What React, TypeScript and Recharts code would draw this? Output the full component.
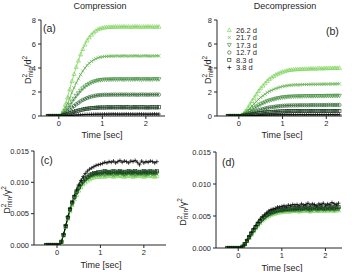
import { LineChart, Line, XAxis, YAxis, Legend } from 'recharts';

// Time axis shared by every series (sec)
const time = [
  -0.25, -0.2, -0.15, -0.1, -0.05, 0,
  0.05, 0.1, 0.15, 0.2, 0.25, 0.3, 0.35, 0.4, 0.45, 0.5, 0.55, 0.6, 0.65, 0.7, 0.75, 0.8, 0.85, 0.9, 0.95, 1,
  1.05, 1.1, 1.15, 1.2, 1.25, 1.3, 1.35, 1.4, 1.45, 1.5, 1.55, 1.6, 1.65,
  1.7, 1.75, 1.8, 1.85, 1.9, 1.95, 2, 2.05, 2.1, 2.15, 2.2, 2.25, 2.3,
];

const strainLabels = ['26.2 d', '21.7 d', '17.3 d', '12.7 d', '8.3 d', '3.8 d'];
const strainColors = ['#7ad257', '#5bae48', '#3f8c3b', '#2b6430', '#173a1d', '#000000'];
const strainMarkers = ['triUp', 'cross', 'triDown', 'circle', 'square', 'plus'];

const xTicks = [0, 1, 2];
const yTicksTop = [0, 2, 4, 6, 8];
const yTicksBottom = [0, 0.005, 0.01, 0.015];

// (a) compression, D2min/d2
const compA262 = [
  0, 0, 0, 0, 0, 0,
  0.02, 0.45, 0.97, 1.56, 2.24, 2.91, 3.5, 4.1, 4.62, 5.14, 5.59, 5.96, 6.3, 6.56, 6.78, 6.97, 7.11, 7.23, 7.3, 7.35,
  7.39, 7.41, 7.43, 7.43, 7.44, 7.45, 7.44, 7.46, 7.45, 7.47, 7.45, 7.46, 7.44,
  7.45, 7.47, 7.46, 7.45, 7.44, 7.46, 7.45, 7.47, 7.46, 7.45, 7.44, 7.46, 7.45,
];
const compA217 = [
  0, 0, 0, 0, 0, 0,
  0.01, 0.3, 0.65, 1.05, 1.5, 1.95, 2.35, 2.75, 3.1, 3.45, 3.75, 4.0, 4.22, 4.4, 4.55, 4.67, 4.77, 4.85, 4.9, 4.93,
  4.96, 4.97, 4.98, 4.99, 4.99, 5.0, 5.01, 4.99, 5.0, 5.02, 5.0, 4.99, 5.01,
  5.0, 5.02, 5.01, 4.99, 5.0, 5.01, 5.02, 5.0, 4.99, 5.01, 5.0, 5.02, 5.01,
];
const compA173 = [
  0, 0, 0, 0, 0, 0,
  0.01, 0.18, 0.4, 0.64, 0.92, 1.19, 1.43, 1.68, 1.89, 2.1, 2.29, 2.44, 2.58, 2.68, 2.78, 2.85, 2.91, 2.96, 2.99, 3.01,
  3.03, 3.03, 3.04, 3.04, 3.05, 3.05, 3.04, 3.06, 3.05, 3.03, 3.06, 3.05, 3.04,
  3.06, 3.05, 3.07, 3.05, 3.04, 3.06, 3.05, 3.06, 3.04, 3.05, 3.07, 3.05, 3.06,
];
const compA127 = [
  0, 0, 0, 0, 0, 0,
  0.01, 0.11, 0.23, 0.37, 0.53, 0.69, 0.84, 0.98, 1.1, 1.23, 1.34, 1.42, 1.5, 1.57, 1.62, 1.66, 1.7, 1.73, 1.74, 1.76,
  1.77, 1.77, 1.77, 1.78, 1.78, 1.78, 1.77, 1.79, 1.78, 1.78, 1.79, 1.77, 1.78,
  1.79, 1.78, 1.77, 1.78, 1.79, 1.78, 1.78, 1.77, 1.79, 1.78, 1.78, 1.79, 1.78,
];
const compA83 = [
  0, 0, 0, 0, 0, 0,
  0, 0.04, 0.09, 0.15, 0.22, 0.28, 0.34, 0.4, 0.45, 0.5, 0.54, 0.58, 0.61, 0.63, 0.66, 0.67, 0.69, 0.7, 0.71, 0.71,
  0.71, 0.72, 0.72, 0.72, 0.72, 0.72, 0.72, 0.73, 0.72, 0.72, 0.73, 0.72, 0.71,
  0.72, 0.73, 0.72, 0.72, 0.73, 0.72, 0.72, 0.71, 0.72, 0.73, 0.72, 0.72, 0.73,
];
const compA38 = [
  0, 0, 0, 0, 0, 0,
  0, 0.01, 0.02, 0.03, 0.04, 0.05, 0.07, 0.08, 0.09, 0.1, 0.11, 0.12, 0.13, 0.13, 0.14, 0.14, 0.15, 0.15, 0.15, 0.15,
  0.16, 0.15, 0.16, 0.16, 0.17, 0.16, 0.16, 0.15, 0.16, 0.16, 0.17, 0.16, 0.16,
  0.16, 0.15, 0.16, 0.17, 0.16, 0.16, 0.16, 0.15, 0.16, 0.16, 0.17, 0.16, 0.16,
];

// (b) decompression, D2min/d2
const decompB262 = [
  0, 0, 0, 0, 0, 0,
  0.01, 0.16, 0.4, 0.64, 0.96, 1.25, 1.53, 1.81, 2.09, 2.33, 2.53, 2.73, 2.93, 3.1, 3.22, 3.34, 3.46, 3.54, 3.62, 3.7,
  3.74, 3.8, 3.84, 3.86, 3.88, 3.9, 3.91, 3.92, 3.93, 3.94, 3.94, 3.95, 3.96,
  3.96, 3.95, 3.97, 3.99, 3.97, 3.98, 4.0, 3.99, 4.01, 4.0, 4.02, 4.01, 4.02,
];
const decompB217 = [
  0, 0, 0, 0, 0, 0,
  0, 0.11, 0.27, 0.43, 0.64, 0.83, 1.02, 1.21, 1.39, 1.55, 1.69, 1.82, 1.96, 2.06, 2.14, 2.22, 2.3, 2.36, 2.41, 2.47,
  2.49, 2.53, 2.56, 2.57, 2.59, 2.6, 2.6, 2.61, 2.62, 2.63, 2.63, 2.63, 2.64,
  2.64, 2.64, 2.65, 2.65, 2.65, 2.66, 2.66, 2.66, 2.67, 2.67, 2.67, 2.68, 2.68,
];
const decompB173 = [
  0, 0, 0, 0, 0, 0,
  0, 0.07, 0.17, 0.27, 0.4, 0.52, 0.64, 0.76, 0.87, 0.97, 1.06, 1.14, 1.23, 1.29, 1.34, 1.39, 1.44, 1.48, 1.51, 1.55,
  1.56, 1.59, 1.6, 1.61, 1.62, 1.63, 1.63, 1.64, 1.64, 1.65, 1.65, 1.65, 1.65,
  1.65, 1.66, 1.66, 1.66, 1.66, 1.66, 1.67, 1.67, 1.67, 1.67, 1.68, 1.68, 1.68,
];
const decompB127 = [
  0, 0, 0, 0, 0, 0,
  0, 0.04, 0.09, 0.15, 0.22, 0.29, 0.35, 0.41, 0.48, 0.53, 0.58, 0.63, 0.67, 0.71, 0.74, 0.76, 0.79, 0.81, 0.83, 0.85,
  0.86, 0.87, 0.88, 0.88, 0.89, 0.89, 0.89, 0.9, 0.9, 0.9, 0.9, 0.9, 0.91,
  0.91, 0.91, 0.91, 0.91, 0.91, 0.91, 0.91, 0.92, 0.92, 0.92, 0.92, 0.92, 0.92,
];
const decompB83 = [
  0, 0, 0, 0, 0, 0,
  0, 0.02, 0.04, 0.07, 0.1, 0.13, 0.16, 0.19, 0.22, 0.24, 0.26, 0.29, 0.31, 0.32, 0.34, 0.35, 0.36, 0.37, 0.38, 0.39,
  0.39, 0.4, 0.4, 0.4, 0.41, 0.41, 0.41, 0.42, 0.41, 0.42, 0.42, 0.41, 0.42,
  0.42, 0.41, 0.42, 0.42, 0.42, 0.41, 0.42, 0.42, 0.42, 0.41, 0.42, 0.42, 0.42,
];
const decompB38 = [
  0, 0, 0, 0, 0, 0,
  0, 0, 0.01, 0.02, 0.03, 0.03, 0.04, 0.05, 0.06, 0.06, 0.07, 0.07, 0.08, 0.08, 0.09, 0.09, 0.09, 0.1, 0.1, 0.1,
  0.1, 0.11, 0.1, 0.11, 0.11, 0.1, 0.11, 0.11, 0.11, 0.1, 0.11, 0.11, 0.11,
  0.1, 0.11, 0.11, 0.11, 0.11, 0.1, 0.11, 0.11, 0.11, 0.11, 0.1, 0.11, 0.11,
];

// (c) compression, D2min/gamma2
const normC262 = [
  0, 0, 0, 0, 0, 0,
  0, 0.0004, 0.0015, 0.0029, 0.0042, 0.0054, 0.0064, 0.0073, 0.008, 0.0087, 0.0092, 0.0097, 0.01, 0.0103, 0.0105, 0.0107, 0.0108, 0.0109, 0.0109, 0.0109,
  0.011, 0.0109, 0.011, 0.0111, 0.011, 0.0109, 0.011, 0.0111, 0.011, 0.011, 0.0109, 0.011, 0.0111,
  0.011, 0.0109, 0.011, 0.011, 0.0111, 0.011, 0.0109, 0.011, 0.0111, 0.011, 0.011, 0.0109, 0.011,
];
const normC217 = [
  0, 0, 0, 0, 0, 0,
  0, 0.0005, 0.0016, 0.0029, 0.0043, 0.0055, 0.0065, 0.0074, 0.0082, 0.0088, 0.0094, 0.0099, 0.0102, 0.0105, 0.0107, 0.0109, 0.011, 0.0111, 0.0111, 0.0111,
  0.0112, 0.0111, 0.0112, 0.0113, 0.0112, 0.0111, 0.0112, 0.0112, 0.0113, 0.0112, 0.0111, 0.0112, 0.0113,
  0.0112, 0.0112, 0.0111, 0.0112, 0.0113, 0.0112, 0.0112, 0.0111, 0.0112, 0.0113, 0.0112, 0.0112, 0.0113,
];
const normC173 = [
  0, 0, 0, 0, 0, 0,
  0, 0.0005, 0.0016, 0.003, 0.0043, 0.0056, 0.0066, 0.0075, 0.0083, 0.009, 0.0096, 0.01, 0.0104, 0.0107, 0.0109, 0.0111, 0.0112, 0.0113, 0.0113, 0.0113,
  0.0114, 0.0113, 0.0114, 0.0115, 0.0114, 0.0113, 0.0114, 0.0114, 0.0115, 0.0114, 0.0113, 0.0114, 0.0115,
  0.0114, 0.0114, 0.0113, 0.0114, 0.0115, 0.0114, 0.0114, 0.0113, 0.0114, 0.0115, 0.0114, 0.0114, 0.0115,
];
const normC127 = [
  0, 0, 0, 0, 0, 0,
  0, 0.0005, 0.0016, 0.003, 0.0044, 0.0056, 0.0067, 0.0076, 0.0084, 0.0091, 0.0097, 0.0101, 0.0105, 0.0108, 0.011, 0.0112, 0.0113, 0.0114, 0.0114, 0.0114,
  0.0115, 0.0116, 0.0115, 0.0114, 0.0115, 0.0116, 0.0115, 0.0115, 0.0116, 0.0115, 0.0114, 0.0115, 0.0116,
  0.0115, 0.0115, 0.0116, 0.0115, 0.0114, 0.0115, 0.0116, 0.0115, 0.0115, 0.0116, 0.0115, 0.0115, 0.0116,
];
const normC83 = [
  0, 0, 0, 0, 0, 0,
  0, 0.0005, 0.0016, 0.003, 0.0044, 0.0057, 0.0068, 0.0077, 0.0085, 0.0092, 0.0098, 0.0103, 0.0106, 0.0109, 0.0112, 0.0113, 0.0115, 0.0115, 0.0116, 0.0116,
  0.0117, 0.0118, 0.0117, 0.0116, 0.0117, 0.0118, 0.0117, 0.0117, 0.0118, 0.0117, 0.0116, 0.0117, 0.0118,
  0.0117, 0.0117, 0.0118, 0.0117, 0.0116, 0.0117, 0.0118, 0.0117, 0.0117, 0.0118, 0.0117, 0.0117, 0.0118,
];
const normC38 = [
  0, 0, 0, 0, 0, 0,
  0, 0.0005, 0.0017, 0.0031, 0.0045, 0.0058, 0.0069, 0.0079, 0.0088, 0.0096, 0.0103, 0.0109, 0.0114, 0.0118, 0.0121, 0.0123, 0.0125, 0.0127, 0.0128, 0.0129,
  0.013, 0.0132, 0.0131, 0.0133, 0.0132, 0.0134, 0.0131, 0.0133, 0.0135, 0.0132, 0.0134, 0.0133, 0.0131,
  0.0134, 0.0133, 0.0135, 0.0132, 0.0128, 0.0134, 0.0131, 0.0133, 0.0132, 0.0134, 0.0133, 0.0131, 0.0133,
];

// (d) decompression, D2min/gamma2
const normD262 = [
  0, 0, 0, 0, 0, 0,
  0, 0.0002, 0.0006, 0.0011, 0.0016, 0.0021, 0.0026, 0.0031, 0.0035, 0.0039, 0.0043, 0.0046, 0.0048, 0.005, 0.0052, 0.0053, 0.0054, 0.0055, 0.0056, 0.0056,
  0.0057, 0.0057, 0.0057, 0.0057, 0.0058, 0.0058, 0.0058, 0.0057, 0.0058, 0.0058, 0.0059, 0.0058, 0.0057,
  0.0058, 0.0059, 0.0058, 0.0058, 0.0059, 0.0058, 0.0059, 0.0058, 0.0059, 0.0059, 0.0058, 0.0059, 0.0059,
];
const normD217 = [
  0, 0, 0, 0, 0, 0,
  0, 0.0002, 0.0006, 0.0011, 0.0016, 0.0022, 0.0027, 0.0032, 0.0036, 0.0041, 0.0044, 0.0047, 0.005, 0.0052, 0.0053, 0.0055, 0.0056, 0.0057, 0.0058, 0.0058,
  0.0058, 0.0059, 0.0059, 0.0059, 0.0059, 0.0059, 0.0059, 0.006, 0.0059, 0.006, 0.006, 0.0059, 0.006,
  0.0061, 0.006, 0.0059, 0.006, 0.006, 0.0061, 0.006, 0.006, 0.0061, 0.006, 0.006, 0.0061, 0.006,
];
const normD173 = [
  0, 0, 0, 0, 0, 0,
  0, 0.0002, 0.0006, 0.0011, 0.0016, 0.0022, 0.0027, 0.0032, 0.0037, 0.0041, 0.0044, 0.0047, 0.005, 0.0052, 0.0054, 0.0055, 0.0056, 0.0057, 0.0058, 0.0058,
  0.0059, 0.0059, 0.0059, 0.0059, 0.006, 0.006, 0.006, 0.0059, 0.006, 0.0061, 0.006, 0.006, 0.0059,
  0.006, 0.0061, 0.006, 0.006, 0.0061, 0.006, 0.006, 0.0061, 0.006, 0.0061, 0.006, 0.0061, 0.0061,
];
const normD127 = [
  0, 0, 0, 0, 0, 0,
  0, 0.0002, 0.0006, 0.0011, 0.0017, 0.0022, 0.0027, 0.0032, 0.0037, 0.0041, 0.0045, 0.0048, 0.0051, 0.0053, 0.0054, 0.0056, 0.0057, 0.0058, 0.0059, 0.0059,
  0.0059, 0.006, 0.006, 0.006, 0.006, 0.006, 0.0061, 0.006, 0.0061, 0.0061, 0.0062, 0.0061, 0.006,
  0.0061, 0.0062, 0.0061, 0.0061, 0.0062, 0.0061, 0.0061, 0.0062, 0.0061, 0.0062, 0.0061, 0.0062, 0.0062,
];
const normD83 = [
  0, 0, 0, 0, 0, 0,
  0, 0.0002, 0.0006, 0.0011, 0.0017, 0.0023, 0.0028, 0.0033, 0.0038, 0.0042, 0.0046, 0.0049, 0.0052, 0.0054, 0.0056, 0.0057, 0.0058, 0.0059, 0.006, 0.006,
  0.0061, 0.0061, 0.0061, 0.0062, 0.0062, 0.0062, 0.0062, 0.0063, 0.0062, 0.0063, 0.0064, 0.0063, 0.0062,
  0.0063, 0.0064, 0.0063, 0.0063, 0.0064, 0.0063, 0.0062, 0.0064, 0.0063, 0.0064, 0.0063, 0.0064, 0.0064,
];
const normD38 = [
  0, 0, 0, 0, 0, 0,
  0, 0.0002, 0.0006, 0.0012, 0.0018, 0.0024, 0.003, 0.0035, 0.004, 0.0045, 0.0049, 0.0052, 0.0055, 0.0058, 0.006, 0.0061, 0.0062, 0.0064, 0.0064, 0.0065,
  0.0066, 0.0065, 0.0067, 0.0066, 0.0068, 0.0067, 0.0068, 0.0066, 0.0069, 0.0067, 0.0068, 0.007, 0.0067,
  0.0069, 0.0068, 0.0066, 0.0069, 0.0068, 0.007, 0.0067, 0.0069, 0.0068, 0.0071, 0.0069, 0.0068, 0.007,
];

const ink = '#262626';
const font = '"Liberation Sans", Arial, Helvetica, sans-serif';

function Marker({ cx, cy, kind, color }: { cx: number; cy: number; kind: string; color: string }) {
  const s = 2;
  const common = { fill: 'none', stroke: color, strokeWidth: 0.65 };
  switch (kind) {
    case 'triUp':
      return <polygon {...common} points={`${cx},${cy - s} ${cx - s},${cy + s * 0.8} ${cx + s},${cy + s * 0.8}`} />;
    case 'triDown':
      return <polygon {...common} points={`${cx},${cy + s} ${cx - s},${cy - s * 0.8} ${cx + s},${cy - s * 0.8}`} />;
    case 'cross':
      return <path {...common} d={`M${cx - 1.6},${cy - 1.6}L${cx + 1.6},${cy + 1.6}M${cx - 1.6},${cy + 1.6}L${cx + 1.6},${cy - 1.6}`} />;
    case 'circle':
      return <circle {...common} cx={cx} cy={cy} r={1.7} />;
    case 'square':
      return <rect {...common} x={cx - 1.6} y={cy - 1.6} width={3.2} height={3.2} />;
    default:
      return <path {...common} d={`M${cx - 2},${cy}L${cx + 2},${cy}M${cx},${cy - 2}L${cx},${cy + 2}`} />;
  }
}

function buildRows(series: number[][]) {
  return time.map((t, i) => {
    const row: Record<string, number> = { t };
    series.forEach((s, k) => {
      row[`s${k}`] = s[i];
    });
    return row;
  });
}

function StrainLegend() {
  return (
    <svg width={50} height={48} style={{ display: 'block' }}>
      {strainLabels.map((label, k) => (
        <g key={label}>
          <Marker cx={5.3} cy={4 + k * 7.5} kind={strainMarkers[k]} color={strainColors[k]} />
          <text x={12} y={6.7 + k * 7.5} fontSize={7.5} fill={ink} fontFamily={font}>
            {label}
          </text>
        </g>
      ))}
    </svg>
  );
}

interface PanelProps {
  left: number;
  top: number;
  margin: { top: number; right: number; bottom: number; left: number };
  yWidth: number;
  xHeight: number;
  xDomain: [number, number];
  yDomain: [number, number];
  yTicks: number[];
  yFormat?: (v: number) => string;
  series: number[][];
  legend?: boolean;
}

function Panel({ left, top, margin, yWidth, xHeight, xDomain, yDomain, yTicks, yFormat, series, legend }: PanelProps) {
  const rows = buildRows(series);
  const tickStyle = { fontSize: 7.5, fill: ink, fontFamily: font };
  return (
    <div style={{ position: 'absolute', left, top }}>
      <LineChart width={176} height={136} data={rows} margin={margin}>
        <XAxis
          dataKey="t"
          type="number"
          domain={xDomain}
          ticks={xTicks}
          allowDataOverflow
          height={xHeight}
          tick={tickStyle}
          tickSize={3}
          stroke={ink}
        />
        <XAxis
          xAxisId="top"
          orientation="top"
          type="number"
          domain={xDomain}
          ticks={xTicks}
          allowDataOverflow
          height={0}
          tick={false}
          tickSize={-3}
          stroke={ink}
        />
        <YAxis
          type="number"
          domain={yDomain}
          ticks={yTicks}
          allowDataOverflow
          width={yWidth}
          tick={tickStyle}
          tickSize={3}
          tickFormatter={yFormat}
          stroke={ink}
        />
        <YAxis
          yAxisId="right"
          orientation="right"
          type="number"
          domain={yDomain}
          ticks={yTicks}
          allowDataOverflow
          width={0}
          tick={false}
          tickSize={-3}
          stroke={ink}
        />
        {series.map((_, k) => (
          <Line
            key={k}
            dataKey={`s${k}`}
            type="linear"
            stroke={strainColors[k]}
            strokeWidth={0.8}
            isAnimationActive={false}
            legendType="none"
            dot={(p: any) =>
              p.cx == null || p.cy == null ? (
                <g key={`d${k}-${p.index}`} />
              ) : (
                <g key={`d${k}-${p.index}`}>
                  <Marker cx={p.cx} cy={p.cy} kind={strainMarkers[k]} color={strainColors[k]} />
                </g>
              )
            }
            activeDot={false}
          />
        ))}
        {legend && (
          <Legend
            layout="horizontal"
            verticalAlign="middle"
            align="center"
            wrapperStyle={{ left: 48, top: 26, width: 50, height: 48 }}
            content={() => <StrainLegend />}
          />
        )}
      </LineChart>
    </div>
  );
}

function DLabel({ x, y, denom }: { x: number; y: number; denom: string }) {
  return (
    <text transform={`translate(${x},${y}) rotate(-90)`} textAnchor="middle" fontSize={9} fill={ink}>
      D<tspan fontSize={6.5} dy={-3.6}>2</tspan>
      <tspan fontSize={6.5} dx={-3.6} dy={5.8}>min</tspan>
      <tspan dy={-2.2}>/{denom}</tspan>
      <tspan fontSize={6.5} dy={-3.6}>2</tspan>
    </text>
  );
}

const fmt3 = (v: number) => v.toFixed(3);

export default function App() {
  return (
    <div
      style={{
        position: 'absolute',
        left: 0,
        top: 0,
        width: 352,
        height: 272,
        background: '#fff',
        overflow: 'hidden',
        fontFamily: font,
      }}
    >
      <Panel
        left={0}
        top={0}
        margin={{ top: 20, right: 11, bottom: 0, left: 0 }}
        yWidth={41}
        xHeight={20}
        xDomain={[-0.41, 2.44]}
        yDomain={[0, 8]}
        yTicks={yTicksTop}
        series={[compA262, compA217, compA173, compA127, compA83, compA38]}
      />
      <Panel
        left={176}
        top={0}
        margin={{ top: 20, right: 10, bottom: 0, left: 0 }}
        yWidth={41}
        xHeight={20}
        xDomain={[-0.5, 2.36]}
        yDomain={[0, 8]}
        yTicks={yTicksTop}
        series={[decompB262, decompB217, decompB173, decompB127, decompB83, decompB38]}
        legend
      />
      <Panel
        left={0}
        top={136}
        margin={{ top: 15, right: 10, bottom: 0, left: 0 }}
        yWidth={34}
        xHeight={27}
        xDomain={[-0.53, 2.51]}
        yDomain={[0, 0.015]}
        yTicks={yTicksBottom}
        yFormat={fmt3}
        series={[normC262, normC217, normC173, normC127, normC83, normC38]}
      />
      <Panel
        left={176}
        top={136}
        margin={{ top: 16, right: 10, bottom: 0, left: 0 }}
        yWidth={40}
        xHeight={24}
        xDomain={[-0.51, 2.38]}
        yDomain={[0, 0.015]}
        yTicks={yTicksBottom}
        yFormat={fmt3}
        series={[normD262, normD217, normD173, normD127, normD83, normD38]}
      />
      <svg
        width={352}
        height={272}
        style={{ position: 'absolute', left: 0, top: 0, pointerEvents: 'none' }}
        fontFamily={font}
      >
        <text x={100} y={9} textAnchor="middle" fontSize={9} fill={ink}>Compression</text>
        <text x={285} y={9} textAnchor="middle" fontSize={9} fill={ink}>Decompression</text>
        <text x={43} y={32} fontSize={10.5} fill={ink}>(a)</text>
        <text x={326} y={35} fontSize={10.5} fill={ink}>(b)</text>
        <text x={40.5} y={164} fontSize={10.5} fill={ink}>(c)</text>
        <text x={222} y={166} fontSize={10.5} fill={ink}>(d)</text>
        <text x={102} y={138} textAnchor="middle" fontSize={9} fill={ink}>Time [sec]</text>
        <text x={282} y={138} textAnchor="middle" fontSize={9} fill={ink}>Time [sec]</text>
        <text x={101} y={268} textAnchor="middle" fontSize={9} fill={ink}>Time [sec]</text>
        <text x={282} y={270.5} textAnchor="middle" fontSize={9} fill={ink}>Time [sec]</text>
        <DLabel x={30.5} y={70} denom="d" />
        <DLabel x={210.5} y={70} denom="d" />
        <DLabel x={9.6} y={200} denom="γ" />
        <DLabel x={185.5} y={212} denom="γ" />
      </svg>
    </div>
  );
}
